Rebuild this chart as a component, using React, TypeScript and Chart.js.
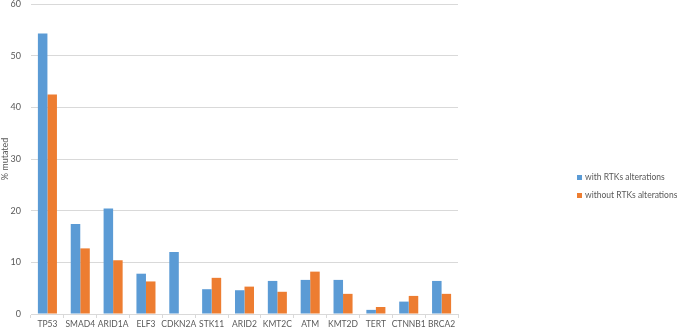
import React, { useEffect, useRef } from "react";
import { Chart, registerables } from "chart.js";

Chart.register(...registerables);

const categories = ["TP53", "SMAD4", "ARID1A", "ELF3", "CDKN2A", "STK11", "ARID2", "KMT2C", "ATM", "KMT2D", "TERT", "CTNNB1", "BRCA2"];
const withRTKs = [54.3, 17.4, 20.4, 7.8, 12.0, 4.8, 4.6, 6.4, 6.6, 6.6, 0.8, 2.4, 6.4];
const withoutRTKs = [42.5, 12.7, 10.4, 6.3, 0, 7.0, 5.3, 4.3, 8.2, 3.9, 1.35, 3.5, 3.9];
const seriesNames = ["with RTKs alterations", "without RTKs alterations"];
const seriesColors = ["#5B9BD5", "#ED7D31"];
const yTicks = [0, 10, 20, 30, 40, 50, 60];

const FONT = "Lato, 'Liberation Sans', sans-serif";
const TEXT = "#595959";

export default function App() {
  const ref = useRef<HTMLCanvasElement | null>(null);

  useEffect(() => {
    if (!ref.current) return;
    const chart = new Chart(ref.current, {
      type: "bar",
      data: {
        labels: categories,
        datasets: [
          { label: seriesNames[0], data: withRTKs, backgroundColor: seriesColors[0], categoryPercentage: 0.58, barPercentage: 1 },
          { label: seriesNames[1], data: withoutRTKs, backgroundColor: seriesColors[1], categoryPercentage: 0.58, barPercentage: 1 },
        ],
      },
      options: {
        animation: false,
        responsive: false,
        maintainAspectRatio: false,
        layout: { padding: { top: 4, right: 219, left: 0, bottom: 0 } },
        plugins: { legend: { display: false }, tooltip: { enabled: false } },
        scales: {
          x: {
            grid: { display: true, drawOnChartArea: false, drawTicks: true, tickLength: 4, color: "#D9D9D9", offset: true },
            border: { display: true, color: "#D9D9D9" },
            ticks: { color: TEXT, font: { family: FONT, size: 8.5 }, padding: 1, maxRotation: 0, autoSkip: false },
            afterFit: (s: any) => { s.height = 15; s.paddingLeft = 0; s.paddingRight = 0; },
          },
          y: {
            min: 0,
            max: 60,
            afterBuildTicks: (s: any) => { s.ticks = yTicks.map((v) => ({ value: v })); },
            grid: { color: "#D9D9D9", drawTicks: false },
            border: { display: false },
            ticks: { color: TEXT, font: { family: FONT, size: 9 }, padding: 10 },
            title: { display: true, text: "% mutated", color: TEXT, font: { family: FONT, size: 9 }, padding: 0 },
            afterFit: (s: any) => { s.width = 31; s.paddingTop = 0; s.paddingBottom = 0; },
          },
        },
      },
    });
    return () => chart.destroy();
  }, []);

  return (
    <div style={{ position: "fixed", left: 0, top: 0, width: 677, height: 329, background: "#fff" }}>
      <canvas ref={ref} width={677} height={329} style={{ position: "absolute", left: 0, top: 0, width: 677, height: 329 }} />
      {seriesNames.map((name, i) => (
        <div key={name} style={{ position: "absolute", left: 577, top: 171 + i * 18, display: "flex", alignItems: "center", fontFamily: FONT, fontSize: 8.5, color: TEXT, whiteSpace: "nowrap", lineHeight: "12px" }}>
          <span style={{ display: "inline-block", width: 5, height: 5, background: seriesColors[i], marginRight: 3 }} />
          <span>{name}</span>
        </div>
      ))}
    </div>
  );
}
